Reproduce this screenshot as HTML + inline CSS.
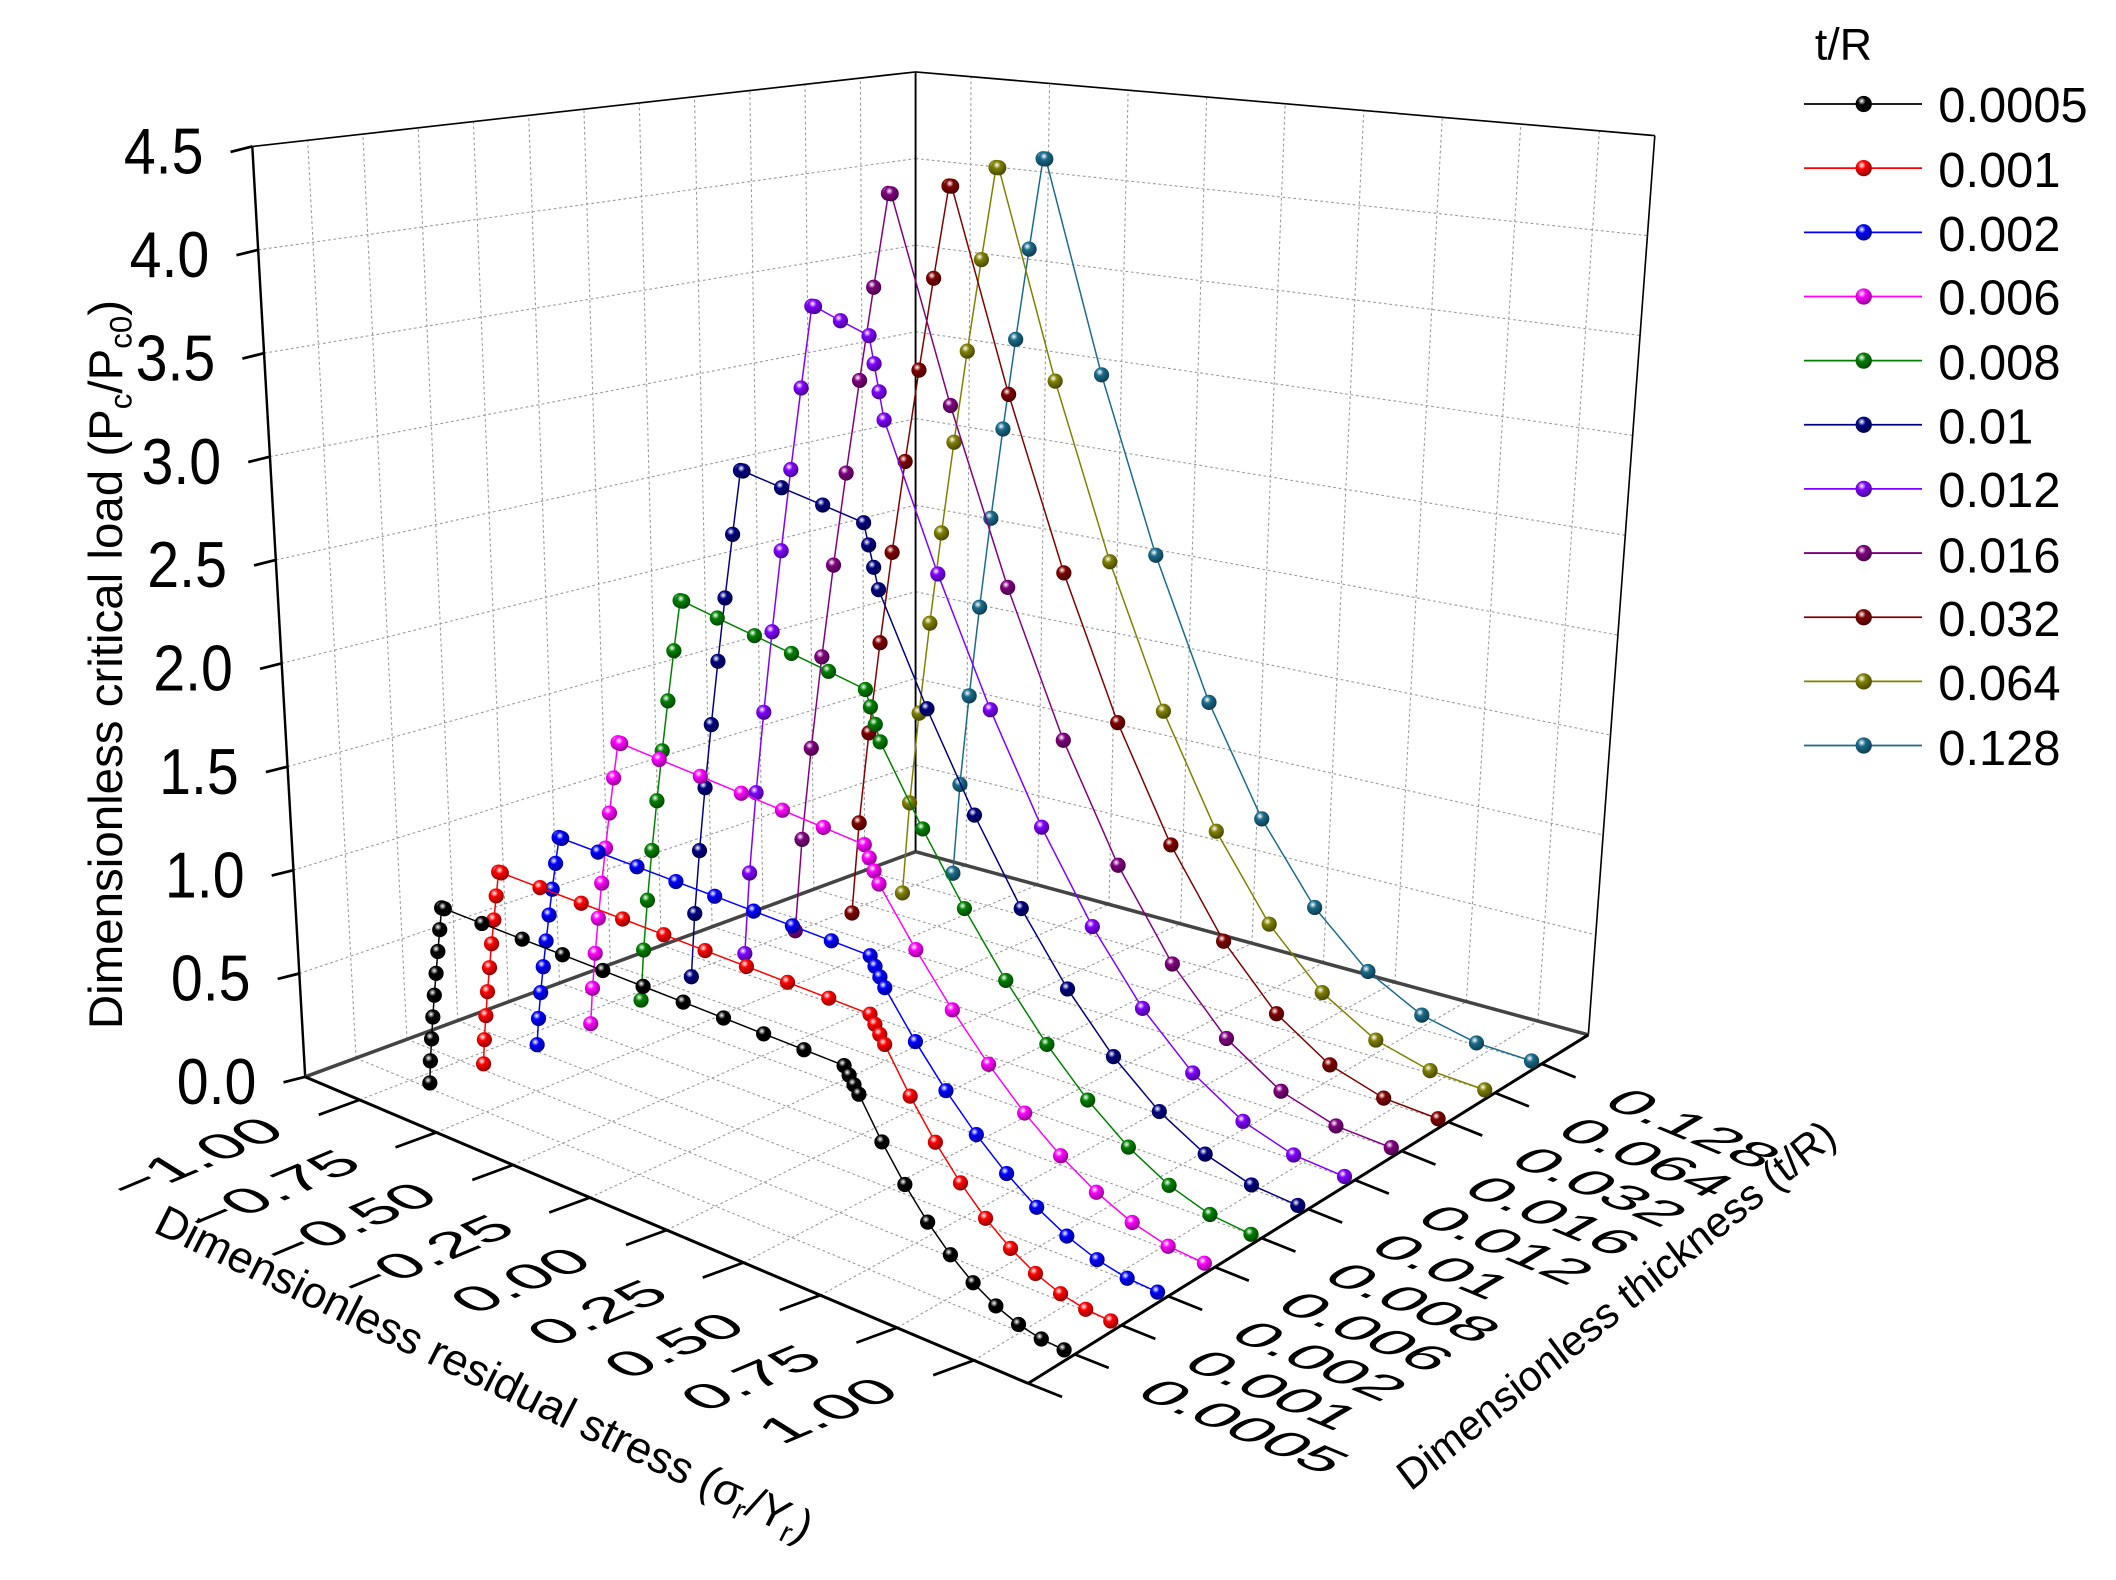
<!DOCTYPE html>
<html><head><meta charset="utf-8">
<style>html,body{margin:0;padding:0;background:#fff;}svg{display:block;}
text{font-family:"Liberation Sans",Arial,sans-serif;fill:#000;}</style></head>
<body>
<svg id="s" xmlns="http://www.w3.org/2000/svg" width="2116" height="1580" viewBox="0 0 1560 1165" preserveAspectRatio="none">
<defs id="defs"></defs>
<g id="grid"></g>
<g id="box"></g>
<g id="data"></g>
<g id="labels">
<text x="1338" y="44" font-size="33">t/R</text>
<g font-size="36">
<text x="1429" y="90">0.0005</text>
<text x="1429" y="138">0.001</text>
<text x="1429" y="185">0.002</text>
<text x="1429" y="232">0.006</text>
<text x="1429" y="280">0.008</text>
<text x="1429" y="327">0.01</text>
<text x="1429" y="374">0.012</text>
<text x="1429" y="422">0.016</text>
<text x="1429" y="469">0.032</text>
<text x="1429" y="516">0.064</text>
<text x="1429" y="564">0.128</text>
</g>
<text transform="translate(90,490) rotate(-90)" text-anchor="middle" font-size="35">Dimensionless critical load (P<tspan font-size="23" dy="7">c</tspan><tspan dy="-7">/P</tspan><tspan font-size="23" dy="7">c0</tspan><tspan dy="-7">)</tspan></text>
<text id="zl0" text-anchor="end" font-size="48">0.0</text>
<text id="zl1" text-anchor="end" font-size="48">0.5</text>
<text id="zl2" text-anchor="end" font-size="48">1.0</text>
<text id="zl3" text-anchor="end" font-size="48">1.5</text>
<text id="zl4" text-anchor="end" font-size="48">2.0</text>
<text id="zl5" text-anchor="end" font-size="48">2.5</text>
<text id="zl6" text-anchor="end" font-size="48">3.0</text>
<text id="zl7" text-anchor="end" font-size="48">3.5</text>
<text id="zl8" text-anchor="end" font-size="48">4.0</text>
<text id="zl9" text-anchor="end" font-size="48">4.5</text>
<text id="sl0" text-anchor="end">−1.00</text>
<text id="sl1" text-anchor="end">−0.75</text>
<text id="sl2" text-anchor="end">−0.50</text>
<text id="sl3" text-anchor="end">−0.25</text>
<text id="sl4" text-anchor="end">0.00</text>
<text id="sl5" text-anchor="end">0.25</text>
<text id="sl6" text-anchor="end">0.50</text>
<text id="sl7" text-anchor="end">0.75</text>
<text id="sl8" text-anchor="end">1.00</text>
<text id="tl0">0.0005</text>
<text id="tl1">0.001</text>
<text id="tl2">0.002</text>
<text id="tl3">0.006</text>
<text id="tl4">0.008</text>
<text id="tl5">0.01</text>
<text id="tl6">0.012</text>
<text id="tl7">0.016</text>
<text id="tl8">0.032</text>
<text id="tl9">0.064</text>
<text id="tl10">0.128</text>
<text transform="matrix(0.90,0.43,-0.45,0.89,112,908)" font-size="33">Dimensionless residual stress (σ<tspan font-size="22" dy="6">r</tspan><tspan dy="-6">/Y</tspan><tspan font-size="22" dy="6">r</tspan><tspan dy="-6">)</tspan></text>
<text transform="matrix(0.773,-0.634,0.6,0.8,1040,1100)" font-size="31">Dimensionless thickness (t/R)</text>
</g>
</svg>
<script>
var NS="http://www.w3.org/2000/svg";
var L=[225,794],F=[758,1020],R=[1171,763],B=[675,628];
var TL=[186,108],TF=[772,183],TR=[1220,100],TB=[675,53];
function bl(a,b,c,d,v,u,k){return a[k]*(1-v)*(1-u)+b[k]*v*(1-u)+c[k]*v*u+d[k]*(1-v)*u;}
function P2(v,u,z){var t=z/4.5;var r=[];for(var k=0;k<2;k++){r.push(bl(L,F,R,B,v,u,k)*(1-t)+bl(TL,TF,TR,TB,v,u,k)*t);}return r;}
function vs(s){return 0.075+(s+1)*0.425;}
function vd(s){return 0.085+(s+1)*0.45;}
function ut(i){return (i+1)/12;}
function el(tag,at,par){var e=document.createElementNS(NS,tag);for(var k in at)e.setAttribute(k,at[k]);document.getElementById(par).appendChild(e);return e;}
function line(a,b,st,w,par,dash){var at={x1:a[0].toFixed(1),y1:a[1].toFixed(1),x2:b[0].toFixed(1),y2:b[1].toFixed(1),stroke:st,"stroke-width":w};if(dash)at["stroke-dasharray"]=dash;el("line",at,par);}
var gc="#9a9a9a",gd="2,2";
for(var s=-1;s<=1.001;s+=0.25){line(P2(vs(s),0,0),P2(vs(s),1,0),gc,0.8,"grid",gd);line(P2(vs(s),1,0),P2(vs(s),1,4.5),gc,0.8,"grid",gd);}
for(var i=0;i<11;i++){line(P2(0,ut(i),0),P2(1,ut(i),0),gc,0.8,"grid",gd);line(P2(0,ut(i),0),P2(0,ut(i),4.5),gc,0.8,"grid",gd);}
for(var z=0.5;z<4.49;z+=0.5){line(P2(0,0,z),P2(0,1,z),gc,0.8,"grid",gd);line(P2(0,1,z),P2(1,1,z),gc,0.8,"grid",gd);}
line(P2(0,0,0),P2(0,0,4.5),"#000",1.8,"box");
line(P2(0,0,4.5),P2(0,1,4.5),"#000",1.2,"box");
line(P2(0,1,4.5),P2(1,1,4.5),"#000",1.2,"box");
line(P2(1,1,0),P2(1,1,4.5),"#000",1.2,"box");
line(P2(0,1,0),P2(0,1,4.5),"#000",1.4,"box");
line(P2(0,0,0),P2(0,1,0),"#444",2.6,"box");
line(P2(0,1,0),P2(1,1,0),"#444",2.6,"box");
line(P2(0,0,0),P2(1,0,0),"#000",2.2,"box");
line(P2(1,0,0),P2(1,1,0),"#000",2.2,"box");
for(var j=0;j<10;j++){var p=P2(0,0,j*0.5);line(p,[p[0]-16,p[1]+4],"#000",2,"box");var t=document.getElementById("zl"+j);
 t.setAttribute("transform","translate("+(p[0]-36).toFixed(1)+","+(p[1]+20).toFixed(1)+") scale(0.88,1)");}
for(var j=0;j<9;j++){var s=-1+j*0.25;var p=P2(vs(s),0,0);var e=[p[0]-30,p[1]+11];line(p,e,"#000",2,"box");var t=document.getElementById("sl"+j);
 t.setAttribute("font-size","50");t.setAttribute("transform","matrix(0.922,-0.387,0.64,0.40,"+(e[0]-22).toFixed(1)+","+(e[1]+14).toFixed(1)+")");}
for(var j=0;j<12;j++){var p=P2(1,j/12,0);var e=[p[0]+25,p[1]+10];line(p,e,"#000",2,"box");}
for(var j=0;j<11;j++){var p=P2(1,ut(j),0);var e=[p[0]+25,p[1]+10];var t=document.getElementById("tl"+j);
 t.setAttribute("font-size","50");t.setAttribute("transform","matrix(0.922,0.387,-0.64,0.38,"+(e[0]+18).toFixed(1)+","+(e[1]+20).toFixed(1)+")");}
var ser=[
 ['#000000',0.9,-0.96,-0.9,0.32,0.08,2.2],
 ['#ff0000',1.0,-0.95,-0.88,0.25,0.08,2.2],
 ['#0000ff',1.1,-0.94,-0.85,0.1,0.08,2.1],
 ['#ff00ff',1.5,-0.93,-0.82,-0.07,0.1,2.0],
 ['#008000',2.15,-0.93,-0.78,-0.22,0.1,2.0],
 ['#000080',2.75,-0.93,-0.75,-0.38,0.05,2.2],
 ['#8000ff',3.55,-0.92,-0.69,-0.52,0.03,2.3],
 ['#800080',4.1,-0.92,-0.62,-0.62,0,2.5],
 ['#800000',4.1,-0.9,-0.6,-0.6,0,2.5],
 ['#808000',4.15,-0.9,-0.62,-0.62,0,2.6],
 ['#1a6b8a',4.15,-0.9,-0.64,-0.64,0,2.7]];
var defs=document.getElementById("defs");
function shade(c,f){var r=parseInt(c.substr(1,2),16),g=parseInt(c.substr(3,2),16),b=parseInt(c.substr(5,2),16);return "rgb("+Math.round(r*f)+","+Math.round(g*f)+","+Math.round(b*f)+")";}
ser.forEach(function(S,i){var g=document.createElementNS(NS,"radialGradient");g.setAttribute("id","g"+i);g.setAttribute("cx","0.38");g.setAttribute("cy","0.32");g.setAttribute("r","0.7");
 [["0","#ffffff"],["0.35",S[0]],["1",shade(S[0],0.55)]].forEach(function(st){var x=document.createElementNS(NS,"stop");x.setAttribute("offset",st[0]);x.setAttribute("stop-color",st[1]);g.appendChild(x);});defs.appendChild(g);});
function pts(S){var P=S[1],sA=S[2],sB=S[3],sC=S[4],d=S[5],k=S[6];var a=[];
 var nr=9;for(var n=0;n<nr;n++){var f=n/(nr-1);a.push([sA+(sB-sA)*Math.pow(f,1.2),0.03*P+(P*0.97)*f]);}
 a.push([sB+0.008,P]);
 if(sC>sB){var np=Math.max(2,Math.round((sC-sB)/0.12));for(var n=1;n<=np;n++){var f=n/np;a.push([sB+(sC-sB)*f,P*(1-d*f)]);}
  for(var n=1;n<=3;n++){a.push([sC+0.015*n,P*(1-d)*(1-0.04*n)]);}
 }
 var s0=a[a.length-1][0],z0=a[a.length-1][1];var nd=9;
 for(var n=1;n<=nd;n++){var s=s0+(1-s0)*n/nd;a.push([s,z0*Math.pow((1-s)/(1-s0),k)]);}
 return a;}
for(var i=10;i>=0;i--){var S=ser[i];var a=pts(S);var pp=a.map(function(q){return P2(vd(q[0]),ut(i),q[1]);});
 el("polyline",{points:pp.map(function(q){return q[0].toFixed(1)+","+q[1].toFixed(1);}).join(" "),fill:"none",stroke:S[0],"stroke-width":1.1},"data");
 pp.forEach(function(q){el("circle",{cx:q[0].toFixed(1),cy:q[1].toFixed(1),r:5.6,fill:"url(#g"+i+")"},"data");});}
for(var i=0;i<11;i++){var y=76.7+i*47.3;line([1330,y],[1417,y],ser[i][0],1.3,"data");el("circle",{cx:1374,cy:y,r:6,fill:"url(#g"+i+")"},"data");}
</script>
</body></html>
